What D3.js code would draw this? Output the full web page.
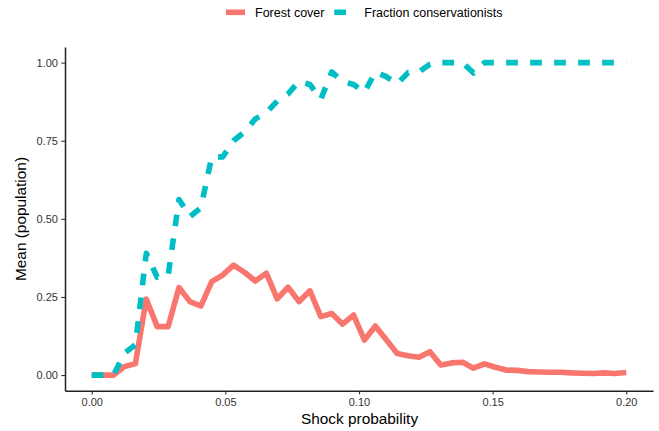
<!DOCTYPE html>
<html>
<head>
<meta charset="utf-8">
<script src="https://cdn.jsdelivr.net/npm/d3@7"></script>
<style>
  html, body { margin: 0; padding: 0; background: #fff; }
  svg { display: block; font-family: "Liberation Sans", Arial, Helvetica, sans-serif; }
</style>
</head>
<body>
<svg id="chart" width="659" height="431"></svg>
<script>
// ---- data ----
const shockProbability = [0, 0.00408, 0.00816, 0.01224, 0.01633, 0.02041, 0.02449, 0.02857, 0.03265, 0.03673,
  0.04082, 0.0449, 0.04898, 0.05306, 0.05714, 0.06122, 0.06531, 0.06939, 0.07347, 0.07755,
  0.08163, 0.08571, 0.0898, 0.09388, 0.09796, 0.10204, 0.10612, 0.1102, 0.11429, 0.11837,
  0.12245, 0.12653, 0.13061, 0.13469, 0.13878, 0.14286, 0.14694, 0.15102, 0.1551, 0.15918,
  0.16327, 0.16735, 0.17143, 0.17551, 0.17959, 0.18367, 0.18776, 0.19184, 0.19592, 0.2];

const forestCover = [0, 0, 0, 0.027, 0.037, 0.243, 0.155, 0.155, 0.28, 0.235,
  0.221, 0.299, 0.32, 0.352, 0.329, 0.301, 0.326, 0.244, 0.281, 0.235,
  0.27, 0.187, 0.197, 0.163, 0.192, 0.112, 0.157, 0.113, 0.069, 0.062,
  0.057, 0.075, 0.032, 0.039, 0.041, 0.022, 0.036, 0.025, 0.016, 0.015,
  0.011, 0.01, 0.009, 0.009, 0.007, 0.006, 0.005, 0.007, 0.005, 0.008];

const fractionConservationists = [0, 0, 0, 0.07, 0.097, 0.39, 0.313, 0.317, 0.562, 0.507,
  0.535, 0.699, 0.698, 0.75, 0.778, 0.82, 0.84, 0.877, 0.9, 0.94,
  0.93, 0.883, 0.97, 0.94, 0.93, 0.905, 0.97, 0.955, 0.932, 0.968,
  0.97, 0.995, 1, 1, 1, 0.967, 1, 1, 1, 1,
  1, 1, 1, 1, 1, 1, 1, 1, 1, 1];

const seriesNames = ["Forest cover", "Fraction conservationists"];
const seriesColors = ["#F8766D", "#00BFC4"];
const xTicks = [0, 0.05, 0.10, 0.15, 0.20];
const yTicks = [0, 0.25, 0.50, 0.75, 1.00];
const xTitle = "Shock probability";
const yTitle = "Mean (population)";

// ---- layout ----
const svg = d3.select("#chart");
const x = d3.scaleLinear().domain([-0.01, 0.21]).range([65, 653]);
const y = d3.scaleLinear().domain([-0.05, 1.05]).range([390.7, 47]);

const series = [
  { name: seriesNames[0], color: seriesColors[0], values: forestCover, dash: null },
  { name: seriesNames[1], color: seriesColors[1], values: fractionConservationists, dash: "11.7,12.3" }
];

// lines
const line = d3.line()
  .x((d, i) => x(shockProbability[i]))
  .y(d => y(d));

series.forEach(s => {
  svg.append("path")
    .datum(s.values)
    .attr("d", line)
    .attr("fill", "none")
    .attr("stroke", s.color)
    .attr("stroke-width", 5.6)
    .attr("stroke-linejoin", "round")
    .attr("stroke-linecap", "butt")
    .attr("stroke-dasharray", s.dash);
});

// axes
const xAxis = svg.append("g")
  .attr("transform", "translate(0,390.7)")
  .call(d3.axisBottom(x).tickValues(xTicks).tickFormat(d3.format(".2f"))
    .tickSize(3.7).tickSizeOuter(0).tickPadding(4.2));
const yAxis = svg.append("g")
  .attr("transform", "translate(65,0)")
  .call(d3.axisLeft(y).tickValues(yTicks).tickFormat(d3.format(".2f"))
    .tickSize(3.7).tickSizeOuter(0).tickPadding(3.3));

[xAxis, yAxis].forEach(g => {
  g.select(".domain").attr("stroke", "#222").attr("stroke-width", 1.5);
  g.selectAll(".tick line").attr("stroke", "#333").attr("stroke-width", 1.1);
  g.selectAll(".tick text")
    .attr("fill", "#333")
    .style("font-size", "11px")
    .style("font-family", "'Liberation Sans', Arial, sans-serif");
});

// axis titles
svg.append("text")
  .attr("x", 359.5).attr("y", 424)
  .attr("text-anchor", "middle")
  .style("font-size", "15.4px")
  .attr("fill", "#000")
  .text(xTitle);

svg.append("text")
  .attr("transform", "translate(26,219) rotate(-90)")
  .attr("text-anchor", "middle")
  .style("font-size", "15.4px")
  .attr("fill", "#000")
  .text(yTitle);

// legend
const legendPos = [{ kx: 226, tx: 255 }, { kx: 334.3, tx: 364.3 }];
series.forEach((s, i) => {
  const p = legendPos[i];
  svg.append("line")
    .attr("x1", p.kx).attr("x2", p.kx + 19)
    .attr("y1", 12.3).attr("y2", 12.3)
    .attr("stroke", s.color)
    .attr("stroke-width", 5.6)
    .attr("stroke-dasharray", s.dash);
  svg.append("text")
    .attr("x", p.tx).attr("y", 16.6)
    .style("font-size", "12.5px")
    .attr("fill", "#000")
    .text(s.name);
});
</script>
</body>
</html>
